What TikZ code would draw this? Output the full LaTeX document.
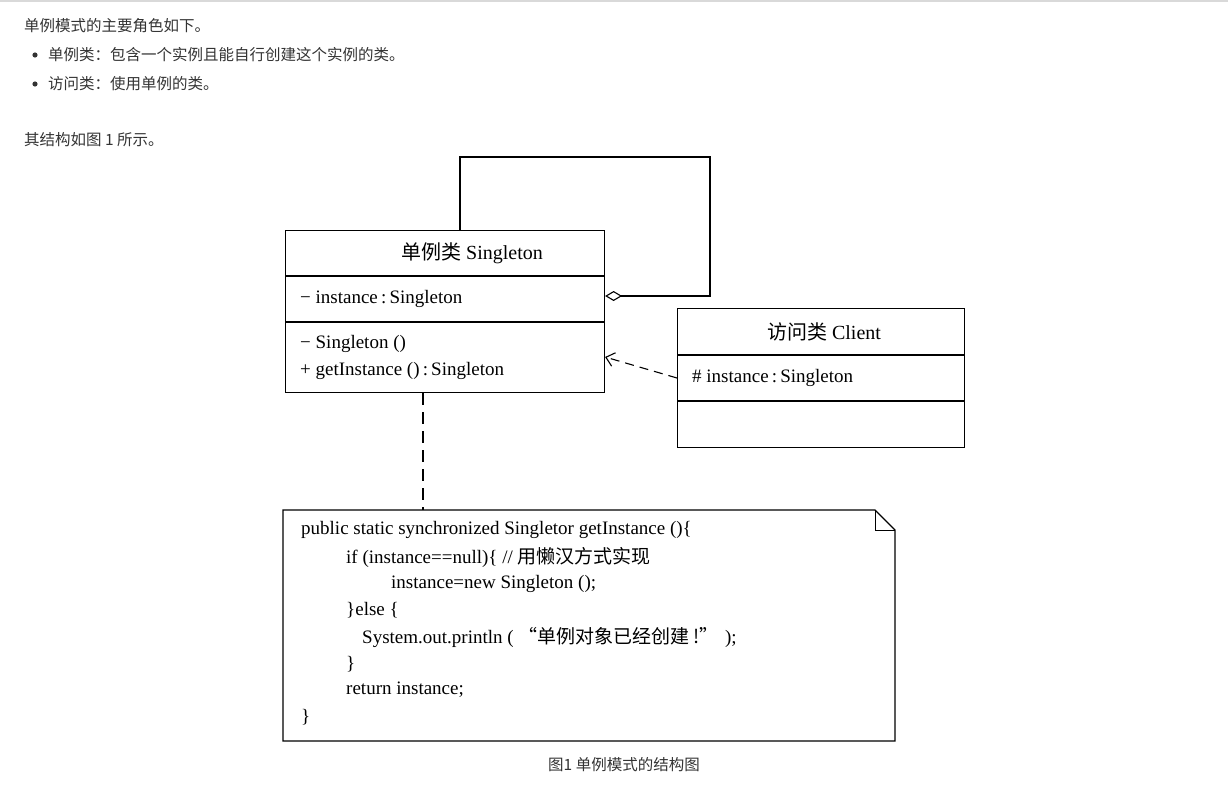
\documentclass[tikz,border=0pt]{standalone}
\usepackage{fontspec}
\setmainfont{Liberation Serif}
\newfontfamily\cjk{Noto Sans CJK SC}
\usetikzlibrary{arrows.meta}
\definecolor{txt}{HTML}{333333}
\begin{document}
\begin{tikzpicture}[x=1pt,y=-1pt,
  box/.style={draw,line width=1.1pt,anchor=north west,inner sep=0pt},
  code/.style={anchor=west,inner sep=0pt,font=\fontsize{19}{19}\selectfont},
  head/.style={inner sep=0pt,font=\fontsize{20}{20}\selectfont},
  para/.style={anchor=west,inner sep=0pt,text=txt,font=\cjk\fontsize{15.5}{16}\selectfont}]
\useasboundingbox (0,0) rectangle (1228,798);
\draw[gray!30,line width=1.5pt] (0,0.8) -- (1228,0.8);
\node[para] (t1) at (24,26) {单例模式的主要角色如下。};
\node[para] (t2) at (48,55) {单例类：包含一个实例且能自行创建这个实例的类。};
\node[para] (t3) at (48,84) {访问类：使用单例的类。};
\fill[txt] (35,55) circle (2.6);
\fill[txt] (35,84) circle (2.6);
\node[para] (t4) at (24,140) {其结构如图 1 所示。};
% Singleton
\node[box,minimum width=319,minimum height=162] (S) at (285,230) {};
\draw[line width=1.1pt] (285,276) -- (604,276) (285,322) -- (604,322);
\node[head] (Sh) at (472,253) {{\cjk 单例类}\ Singleton};
\node[code] (Sa) at (300,299) {− instance\,:\,Singleton};
\node[code] (Sm1) at (300,344) {− Singleton ()};
\node[code] (Sm2) at (300,371) {+ getInstance ()\,:\,Singleton};
% Client
\node[box,minimum width=287,minimum height=139] (C) at (677,308) {};
\draw[line width=1.1pt] (677,355) -- (964,355) (677,401) -- (964,401);
\node[head] (Ch) at (824,332) {{\cjk 访问类}\ Client};
\node[code] (Ca) at (692,378) {\# instance\,:\,Singleton};
% self association
\coordinate (l1) at (460,157);
\coordinate (l2) at (710,157);
\coordinate (l3) at (710,296);
\draw[line width=1.1pt,{Diamond[open,length=17pt,width=10pt]}-] (S.east |- 0,296) -- (l3) -- (l2) -- (l1) -- (S.north -| l1);
% dependency
\draw[line width=1.1pt,dash pattern=on 9pt off 6pt,-{Straight Barb[length=8pt,width=14pt]}] (C.west |- Ca) -- (S.east |- 0,357);
% note
\coordinate (n1) at (283,510);
\coordinate (n2) at (875,510);
\coordinate (n3) at (895,530);
\coordinate (n4) at (895,741);
\coordinate (n5) at (283,741);
\draw[line width=1.1pt] (n1) -- (n2) -- (n3) -- (n4) -- (n5) -- cycle;
\draw[line width=1pt] (n2) -- (875,530) -- (n3);
\draw[line width=1.1pt,dash pattern=on 12pt off 7pt] (S.south -| 423,0) -- (n1 -| 423,0);
\node[code] at (301,530) {public static synchronized Singletor getInstance ()\{};
\node[code] at (346,557) {if (instance==null)\{ // {\cjk 用懒汉方式实现}};
\node[code] at (391,584) {instance=new Singleton ();};
\node[code] at (346,610) {\}else \{};
\node[code] at (362,637) {System.out.println ( {\cjk “单例对象已经创建 !”} );};
\node[code] at (346,664) {\}};
\node[code] at (346,690) {return instance;};
\node[code] at (301,717) {\}};
\node[para,anchor=center] (cap) at (624,765) {图1 单例模式的结构图};
\end{tikzpicture}
\end{document}
